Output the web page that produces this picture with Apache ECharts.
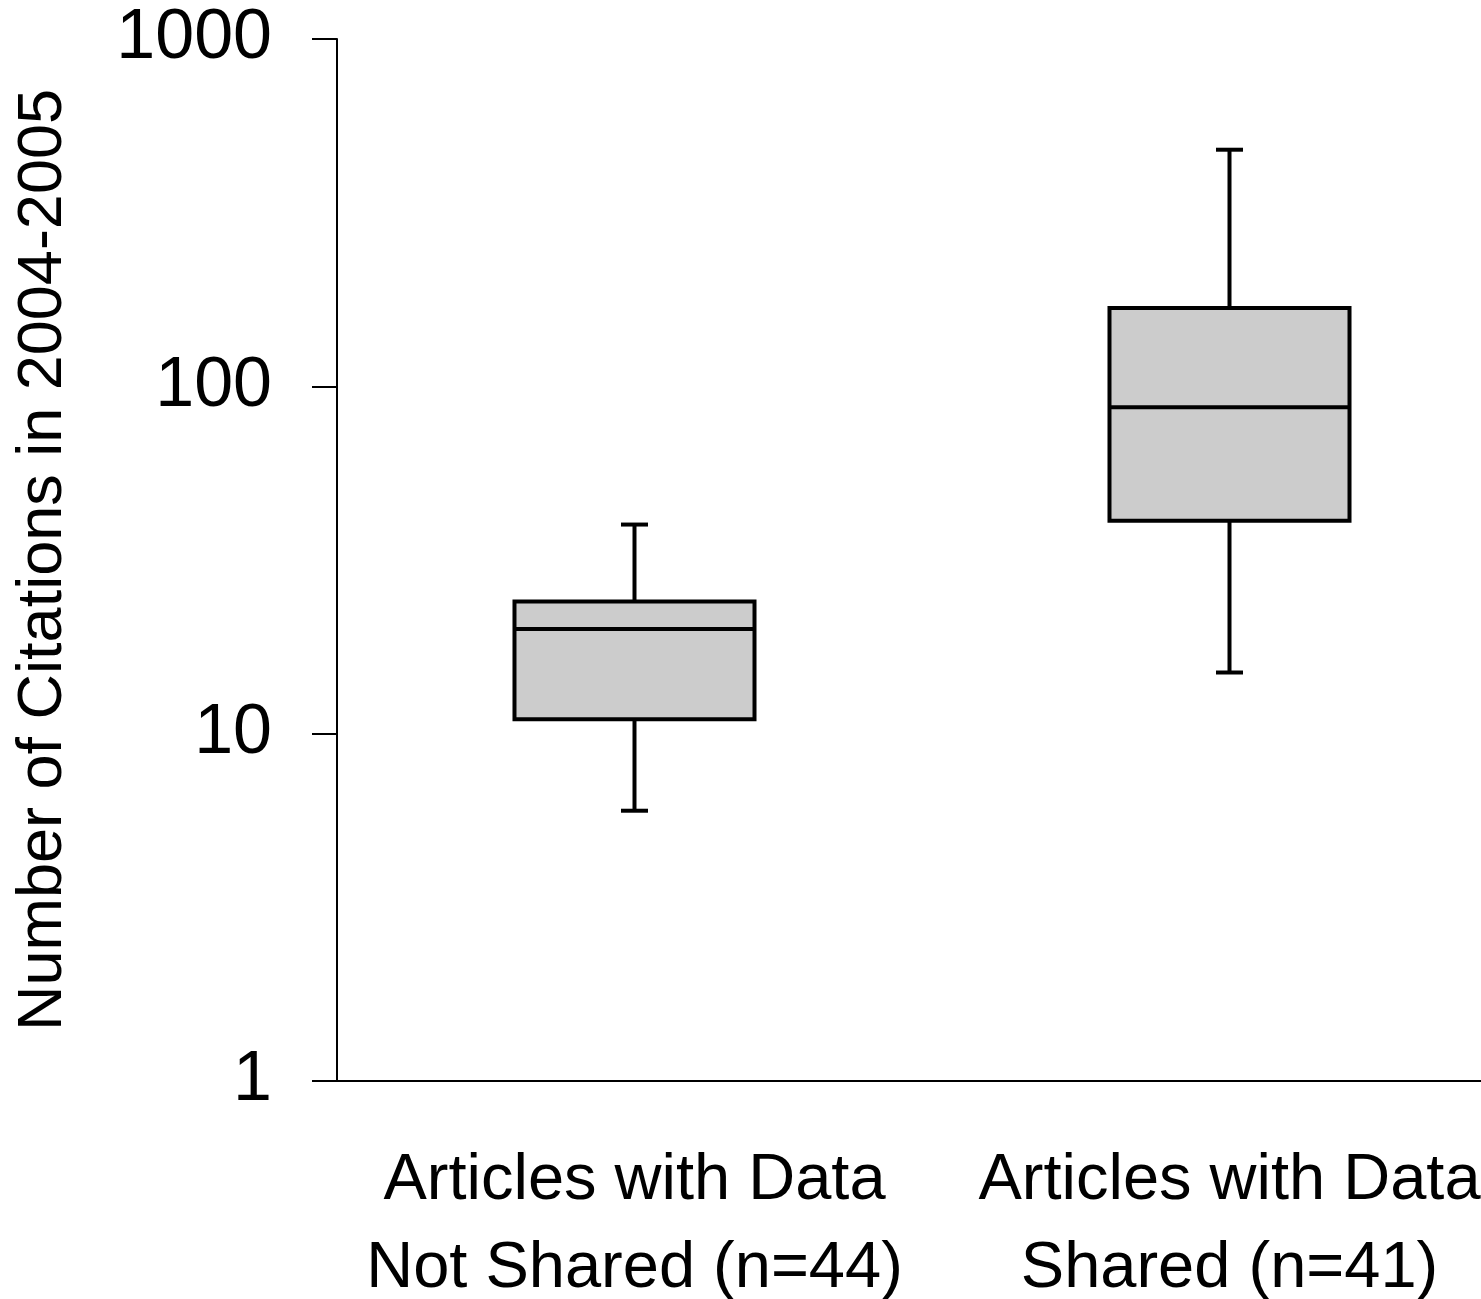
<!DOCTYPE html>
<html>
<head>
<meta charset="utf-8">
<script src="https://cdn.jsdelivr.net/npm/echarts@6/dist/echarts.min.js"></script>
<style>html,body{margin:0;padding:0;background:#fff}#chart{width:1481px;height:1299px}</style>
</head>
<body>
<div id="chart"></div>
<script>
const categories = ['Articles with Data\nNot Shared (n=44)', 'Articles with Data\nShared (n=41)'];
const whiskerLow = [6, 15];
const q1 = [11, 41];
const median = [20, 87];
const q3 = [24, 168];
const whiskerHigh = [40, 480];
const yTickValues = [1, 10, 100, 1000];
const yAxisName = 'Number of Citations in 2004-2005';

const data = categories.map((c, i) => [i, whiskerLow[i], q1[i], median[i], q3[i], whiskerHigh[i]]);

const chart = echarts.init(document.getElementById('chart'));
const FONT = '"Liberation Sans", Arial, sans-serif';

chart.setOption({
  backgroundColor: '#ffffff',
  animation: false,
  grid: { left: 337, top: 39, bottom: 218, right: -46, containLabel: false, outerBoundsMode: 'none' },
  xAxis: {
    type: 'category',
    data: categories,
    boundaryGap: true,
    axisLine: { lineStyle: { color: '#000', width: 2 } },
    axisTick: { show: false },
    axisLabel: {
      color: '#000', fontFamily: FONT, fontSize: 65, lineHeight: 88, margin: 56, interval: 0
    },
    splitLine: { show: false }
  },
  yAxis: {
    type: 'log',
    logBase: 10,
    min: 1,
    max: 1000,
    name: yAxisName,
    nameLocation: 'middle',
    nameRotate: 90,
    nameGap: 262,
    nameTextStyle: { color: '#000', fontFamily: FONT, fontSize: 63 },
    axisLine: { show: true, lineStyle: { color: '#000', width: 2 } },
    axisTick: { show: true, length: 25, lineStyle: { color: '#000', width: 2 } },
    minorTick: { show: false },
    axisLabel: {
      color: '#000', fontFamily: FONT, fontSize: 70, margin: 65,
      formatter: v => yTickValues.includes(Math.round(v)) ? String(Math.round(v)) : ''
    },
    splitLine: { show: false }
  },
  series: [{
    type: 'custom',
    data: data,
    encode: { x: 0, y: [1, 2, 3, 4, 5] },
    renderItem: function (params, api) {
      const x = api.value(0);
      const pMin = api.coord([x, api.value(1)]);
      const pQ1 = api.coord([x, api.value(2)]);
      const pMed = api.coord([x, api.value(3)]);
      const pQ3 = api.coord([x, api.value(4)]);
      const pMax = api.coord([x, api.value(5)]);
      const band = api.size([1, 0])[0];
      const halfBox = band * 0.2017;
      const halfCap = band * 0.0227;
      const cx = pMed[0];
      const lineStyle = { stroke: '#000', lineWidth: 4 };
      return {
        type: 'group',
        children: [
          { type: 'line', shape: { x1: cx, y1: pQ3[1], x2: cx, y2: pMax[1] }, style: lineStyle },
          { type: 'line', shape: { x1: cx, y1: pQ1[1], x2: cx, y2: pMin[1] }, style: lineStyle },
          { type: 'line', shape: { x1: cx - halfCap, y1: pMax[1], x2: cx + halfCap, y2: pMax[1] }, style: lineStyle },
          { type: 'line', shape: { x1: cx - halfCap, y1: pMin[1], x2: cx + halfCap, y2: pMin[1] }, style: lineStyle },
          { type: 'rect', shape: { x: cx - halfBox, y: pQ3[1], width: halfBox * 2, height: pQ1[1] - pQ3[1] },
            style: { fill: '#cccccc', stroke: '#000', lineWidth: 4 } },
          { type: 'line', shape: { x1: cx - halfBox, y1: pMed[1], x2: cx + halfBox, y2: pMed[1] }, style: lineStyle }
        ]
      };
    }
  }]
});
</script>
</body>
</html>
